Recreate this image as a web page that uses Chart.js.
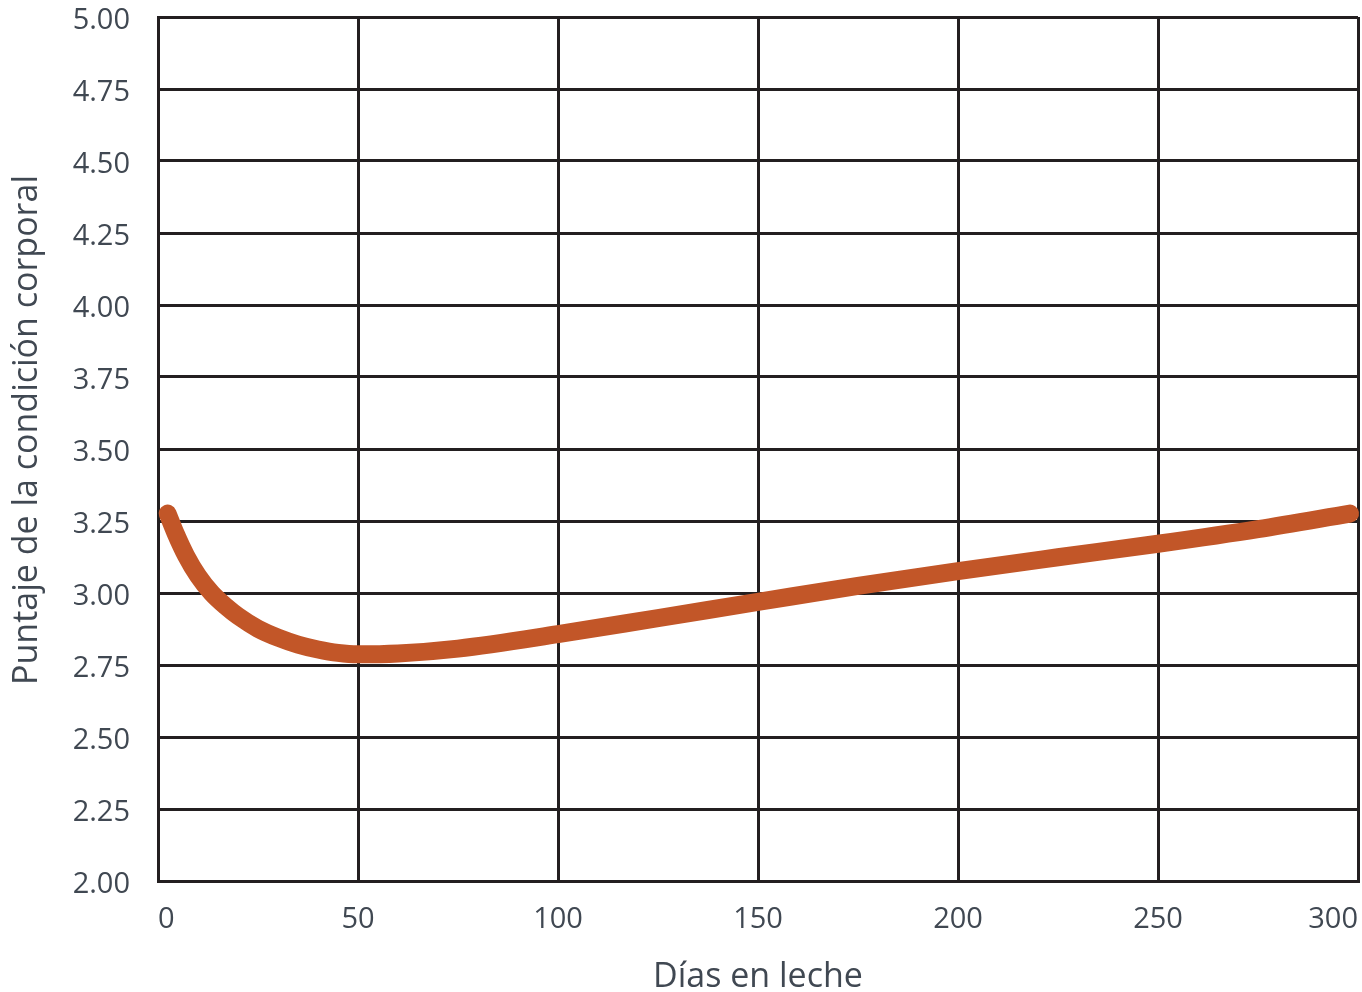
<!DOCTYPE html>
<html>
<head>
<meta charset="utf-8">
<script src="https://cdn.jsdelivr.net/npm/chart.js@4"></script>
<style>
  html, body { margin: 0; padding: 0; background: #ffffff; }
  #wrap { width: 1362px; height: 992px; }
</style>
</head>
<body>
<div id="wrap"><canvas id="c" width="1362" height="992"></canvas></div>
<script>
const days = [2.4, 4.4, 7, 10, 13.4, 17, 20, 25, 30, 35, 40, 45, 50, 60, 75, 100, 125, 150, 175, 200, 225, 250, 275, 298];
const bcs  = [3.276, 3.207, 3.13, 3.06, 3.00, 2.953, 2.92, 2.876, 2.845, 2.821, 2.804, 2.792, 2.787, 2.79, 2.807, 2.857, 2.913, 2.969, 3.025, 3.076, 3.124, 3.171, 3.222, 3.276];
const xTitle = 'Días en leche';
const yTitle = 'Puntaje de la condición corporal';

const textColor = '#404852';
const gridColor = '#231f20';
const font = "'Open Sans', 'Noto Sans', sans-serif";

const points = days.map((d, i) => ({ x: d, y: bcs[i] }));

// Draws the y-axis title (rotated) a little above the plot centre, as in the original
const yTitlePlugin = {
  id: 'yTitlePlugin',
  afterDraw(chart) {
    const ctx = chart.ctx;
    const area = chart.chartArea;
    ctx.save();
    ctx.fillStyle = textColor;
    ctx.font = "34px " + font;
    ctx.textAlign = 'center';
    ctx.textBaseline = 'middle';
    ctx.translate(27, (area.top + area.bottom) / 2 - 19);
    ctx.rotate(-Math.PI / 2);
    ctx.fillText(yTitle, 0, 0);
    ctx.restore();
  }
};

new Chart(document.getElementById('c'), {
  type: 'line',
  data: {
    datasets: [{
      data: points,
      borderColor: '#c25628',
      borderWidth: 18,
      borderCapStyle: 'round',
      borderJoinStyle: 'round',
      pointRadius: 0,
      cubicInterpolationMode: 'monotone',
      fill: false,
      clip: false
    }]
  },
  plugins: [yTitlePlugin],
  options: {
    responsive: false,
    animation: false,
    devicePixelRatio: 1,
    layout: { padding: { top: 17, right: 4, left: 0, bottom: 0 } },
    plugins: { legend: { display: false }, tooltip: { enabled: false } },
    scales: {
      x: {
        type: 'linear',
        min: 0, max: 300,
        ticks: {
          stepSize: 50,
          align: 'inner',
          padding: 21,
          color: textColor,
          font: { family: font, size: 29 }
        },
        grid: { color: gridColor, lineWidth: 3, drawTicks: false },
        border: { display: true, color: gridColor, width: 3 },
        title: {
          display: true, text: xTitle, color: textColor,
          font: { family: font, size: 34, lineHeight: 0.85 },
          padding: { top: 0, bottom: 0 }
        },
        afterFit(scale) {
          scale.height = 111;
          scale.paddingLeft = 0;
          scale.paddingRight = 0;
        }
      },
      y: {
        min: 2, max: 5,
        ticks: {
          stepSize: 0.25,
          padding: 28,
          labelOffset: 4,
          color: textColor,
          font: { family: font, size: 29 },
          callback: v => Number(v).toFixed(2)
        },
        grid: { color: gridColor, lineWidth: 3, drawTicks: false },
        border: { display: true, color: gridColor, width: 3 },
        title: { display: false },
        afterFit(scale) {
          scale.width = 158;
          scale.paddingTop = 0;
          scale.paddingBottom = 0;
        }
      }
    }
  }
});
</script>
</body>
</html>
